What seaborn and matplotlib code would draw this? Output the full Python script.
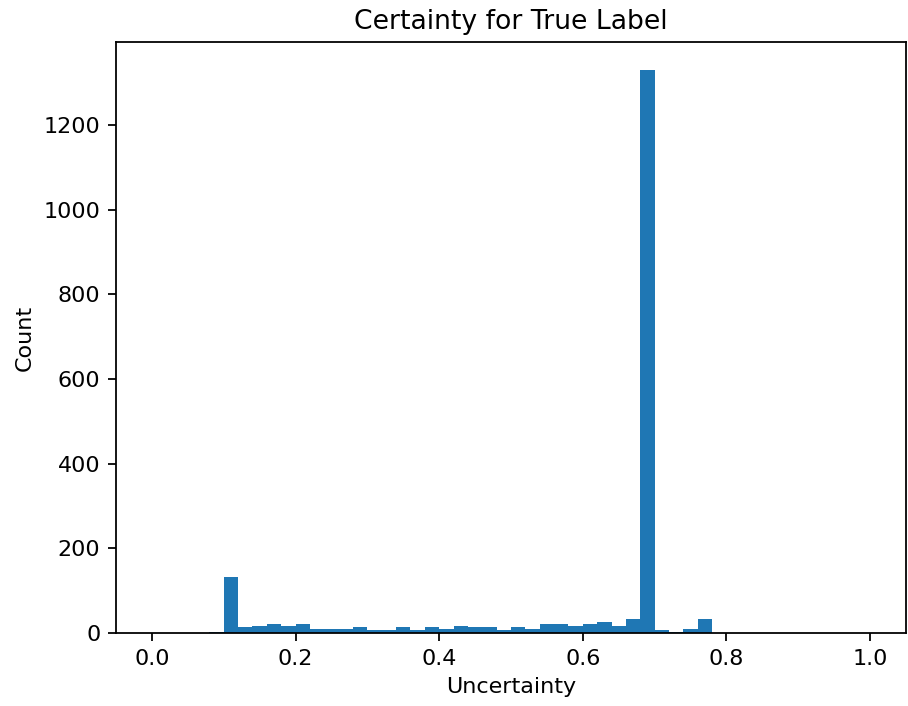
# plot.py

import matplotlib
matplotlib.use('Agg')

import numpy as np
import pandas as pd
import matplotlib.pyplot as plt
import seaborn as sns

# Histogram of uncertainty values, 50 bins over [0, 1]
bin_edges = np.linspace(0, 1, 51)
bin_centers = (bin_edges[:-1] + bin_edges[1:]) / 2

counts = [
    0, 0, 0, 0, 3, 133, 14, 17, 21, 17,
    21, 10, 10, 10, 13, 6, 6, 13, 6, 13,
    9, 17, 13, 13, 6, 13, 9, 21, 21, 17,
    21, 25, 17, 32, 1330, 6, 3, 10, 32, 0,
    0, 0, 0, 0, 0, 0, 0, 0, 0, 0,
]

df = pd.DataFrame({'Uncertainty': bin_centers, 'n': counts})

fig = plt.figure(figsize=(908 / 160, 706 / 160), dpi=160)
ax = fig.add_subplot(111)
fig.subplots_adjust(left=116 / 908, right=906 / 908, top=1 - 42 / 706, bottom=1 - 633 / 706)

sns.histplot(
    data=df,
    x='Uncertainty',
    weights='n',
    bins=list(bin_edges),
    color='#1f77b4',
    alpha=1,
    linewidth=0,
    ax=ax
)

ax.set_xlim(-0.05, 1.05)
ax.set_xticks([0.0, 0.2, 0.4, 0.6, 0.8, 1.0])
ax.set_title('Certainty for True Label')
ax.set_xlabel('Uncertainty')
ax.set_ylabel('Count')

plt.savefig('out.png', dpi=160)
plt.close()
print('Saved: out.png')
